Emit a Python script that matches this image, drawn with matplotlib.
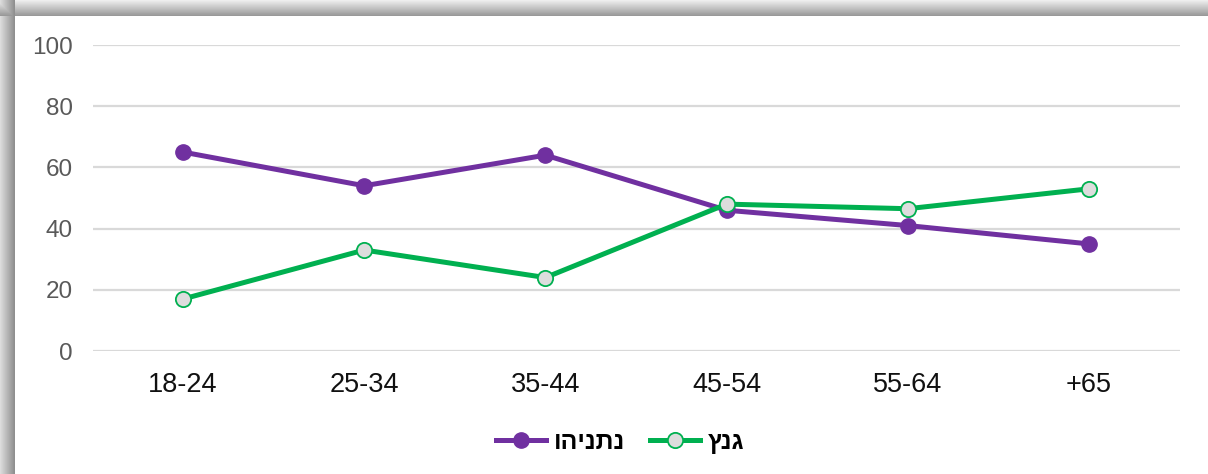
import numpy as np
import matplotlib
matplotlib.use("Agg")
import matplotlib.pyplot as plt
from matplotlib.lines import Line2D

categories = ["18-24", "25-34", "35-44", "45-54", "55-64", "+65"]
netanyahu = [65, 54, 64, 46, 41, 35]
gantz = [17, 33, 24, 48, 46.5, 53]
yticks = [0, 20, 40, 60, 80, 100]
label_netanyahu = "נתניהו"
label_gantz = "גנץ"

def visual(s):
    # matplotlib draws left-to-right; reverse Hebrew for visual order
    return s[::-1]

W, H = 1208, 474
fig = plt.figure(figsize=(W / 100, H / 100), dpi=100)
fig.patch.set_facecolor("white")

# shadow frame background
bg = fig.add_axes([0, 0, 1, 1])
bg.set_xlim(0, W)
bg.set_ylim(H, 0)
bg.axis("off")
xs = np.arange(W)
ys = np.arange(H)
left = np.clip(xs / 14.0, 0, 1)
top = np.clip(ys / 15.0, 0, 1)
val = np.ones((H, W))
lx = 0.86 - 0.30 * left
ty = 0.93 - 0.33 * top
for_x = xs < 15
for_y = ys < 16
val[:, for_x] = lx[for_x][None, :]
val[for_y, :] = np.minimum(val[for_y, :], ty[for_y][:, None])
bg.imshow(val, cmap="gray", vmin=0, vmax=1, extent=(0, W, H, 0), aspect="auto", interpolation="nearest")

ax = fig.add_axes([92.5 / W, 1 - 351 / H, (1179.5 - 92.5) / W, (351 - 45) / H])
ax.set_facecolor("none")
x = np.arange(len(categories))

ax.plot(x, netanyahu, color="#7030A0", lw=3.6, marker="o", markersize=11,
        markerfacecolor="#7030A0", markeredgecolor="#7030A0", zorder=3, solid_capstyle="round")
ax.plot(x, gantz, color="#00B050", lw=3.6, marker="o", markersize=11,
        markerfacecolor="#DDDDDD", markeredgecolor="#00B050", markeredgewidth=1.3, zorder=4,
        solid_capstyle="round")

ax.set_xlim(-0.5, len(categories) - 0.5)
ax.set_ylim(0, 100)
ax.set_yticks(yticks)
ax.set_xticks(x)
ax.set_xticklabels(categories, fontsize=19.5, family="Liberation Sans", color="#111111")
ax.set_yticklabels([str(t) for t in yticks], fontsize=17.5, family="Liberation Sans", color="#595959")
ax.tick_params(axis="both", length=0)
ax.tick_params(axis="x", pad=15)
ax.tick_params(axis="y", pad=14)
for s in ax.spines.values():
    s.set_visible(False)
ax.grid(axis="y", color="#D9D9D9", lw=1.6)
ax.set_axisbelow(True)

handles = [
    Line2D([], [], color="#7030A0", lw=3.6, marker="o", markersize=11,
           markerfacecolor="#7030A0", markeredgecolor="#7030A0"),
    Line2D([], [], color="#00B050", lw=3.6, marker="o", markersize=11,
           markerfacecolor="#DDDDDD", markeredgecolor="#00B050", markeredgewidth=1.3),
]
fig.legend(handles, [visual(label_netanyahu), visual(label_gantz)], loc="center",
           bbox_to_anchor=(620 / W, 1 - 442 / H), ncol=2, frameon=False,
           prop={"family": "Liberation Sans", "weight": "bold", "size": 18},
           handlelength=2.0, handletextpad=0.3, columnspacing=1.0)

fig.savefig("out.png", dpi=100)
